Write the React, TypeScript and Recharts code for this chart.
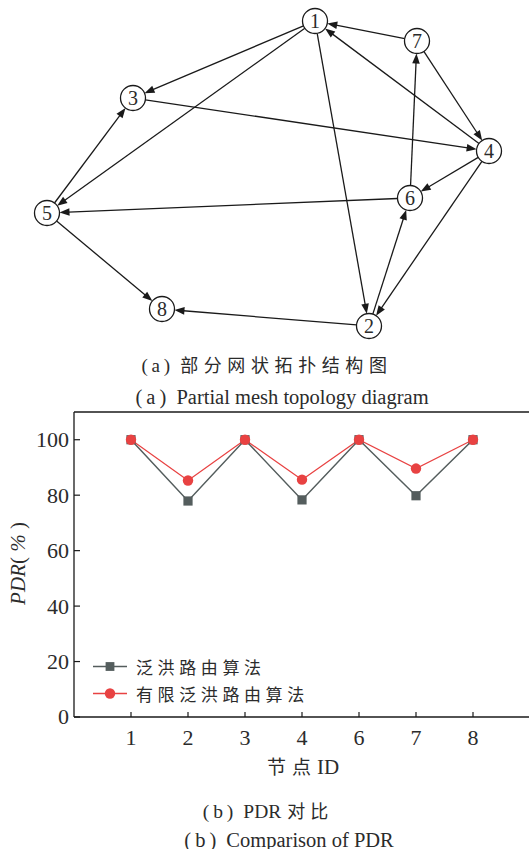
import React from "react";
import { ScatterChart, Scatter, LineChart, Line, XAxis, YAxis, ReferenceLine, Legend } from "recharts";

// mesh topology: node layout and directed links
const nodeIds = ["1", "2", "3", "4", "5", "6", "7", "8"];
const nodeX = [315, 369, 133, 489, 47, 410, 417, 162];
const nodeY = [21, 326, 98, 151, 213, 198, 41, 309];

const linkFrom = ["1", "1", "1", "7", "4", "7", "3", "4", "4", "6", "6", "2", "2", "5", "5"];
const linkTo = ["3", "5", "2", "1", "1", "4", "4", "6", "2", "7", "5", "6", "8", "3", "8"];

// PDR per node
const nodeLabels = ["1", "2", "3", "4", "6", "7", "8"];
const floodPdr = [100, 77.9, 100, 78.3, 100, 79.8, 100];
const limitedPdr = [100, 85.3, 100, 85.6, 100, 89.6, 100];
const pdrTicks = [0, 20, 40, 60, 80, 100];

const FLOOD = "#545d5d";
const LIMITED = "#e84242";
const INK = "#1a1a1a";
const TEXT = "#2b2b2b";
const SERIF = "'Liberation Serif', 'Times New Roman', 'DejaVu Serif', serif";
const CJK = "'Noto Sans CJK SC', sans-serif";
const NODE_R = 12.5;
const THIN = "\u2009";

const nodes = nodeIds.map((id, i) => ({ id, x: nodeX[i], y: nodeY[i] }));
const links = linkFrom.map((from, i) => {
  const a = nodeIds.indexOf(from);
  const b = nodeIds.indexOf(linkTo[i]);
  return [
    { x: nodeX[a], y: nodeY[a] },
    { x: nodeX[b], y: nodeY[b] },
  ];
});

const pdrRows = nodeLabels.map((id, i) => ({
  idx: i + 1,
  id,
  flood: floodPdr[i],
  limited: limitedPdr[i],
}));

// line between two node rims with a filled arrowhead at the target
const ArrowLink = (props: any) => {
  const { x1, y1, x2, y2 } = props;
  if (![x1, y1, x2, y2].every((v) => Number.isFinite(v))) return null;
  const dx = x2 - x1;
  const dy = y2 - y1;
  const len = Math.hypot(dx, dy) || 1;
  const ux = dx / len;
  const uy = dy / len;
  const sx = x1 + ux * NODE_R;
  const sy = y1 + uy * NODE_R;
  const ex = x2 - ux * NODE_R;
  const ey = y2 - uy * NODE_R;
  const hl = 10;
  const hw = 3.8;
  const bx = ex - ux * hl;
  const by = ey - uy * hl;
  const pts = `${ex},${ey} ${bx - uy * hw},${by + ux * hw} ${bx + uy * hw},${by - ux * hw}`;
  return (
    <g>
      <line x1={sx} y1={sy} x2={bx + ux} y2={by + uy} stroke={INK} strokeWidth={1.3} />
      <polygon points={pts} fill={INK} />
    </g>
  );
};

const NodeShape = (props: any) => {
  const { cx, cy, payload } = props;
  return (
    <g>
      <circle cx={cx} cy={cy} r={NODE_R} fill="#fff" stroke={INK} strokeWidth={1.3} />
      <text x={cx} y={cy} dy="0.34em" textAnchor="middle" fontSize={20} fontFamily={SERIF} fill={TEXT}>
        {payload.id}
      </text>
    </g>
  );
};

const YTick = (props: any) => {
  const { x, y, payload } = props;
  return (
    <g>
      <line x1={x} y1={y} x2={x + 6} y2={y} stroke={INK} strokeWidth={1.2} />
      <text x={x - 5} y={y} dy="0.34em" textAnchor="end" fontSize={22} fontFamily={SERIF} fill={TEXT}>
        {payload.value}
      </text>
    </g>
  );
};

const XTick = (props: any) => {
  const { x, y, payload } = props;
  return (
    <g>
      <line x1={x} y1={y} x2={x} y2={y - 5} stroke={INK} strokeWidth={1.2} />
      <text x={x} y={y + 21} dy="0.34em" textAnchor="middle" fontSize={22} fontFamily={SERIF} fill={TEXT}>
        {nodeLabels[payload.value - 1]}
      </text>
    </g>
  );
};

const SquareDot = (props: any) => {
  const { cx, cy, index } = props;
  return <rect key={`sq-${index}`} x={cx - 4.6} y={cy - 4.6} width={9.2} height={9.2} fill={FLOOD} />;
};

const RoundDot = (props: any) => {
  const { cx, cy, index } = props;
  return <circle key={`ci-${index}`} cx={cx} cy={cy} r={5.2} fill={LIMITED} />;
};

const legendItems = [
  { name: "泛洪路由算法", color: FLOOD, shape: "square" },
  { name: "有限泛洪路由算法", color: LIMITED, shape: "circle" },
];

const PdrLegend = () => (
  <div>
    {legendItems.map((item) => (
      <div key={item.name} style={{ display: "flex", alignItems: "center", height: 27 }}>
        <svg width={35} height={27}>
          <line x1={0} y1={13.5} x2={34} y2={13.5} stroke={item.color} strokeWidth={1.5} />
          {item.shape === "square" ? (
            <rect x={12.6} y={9.1} width={8.8} height={8.8} fill={item.color} />
          ) : (
            <circle cx={17} cy={13.5} r={5.2} fill={item.color} />
          )}
        </svg>
        <span
          style={{
            marginLeft: 8,
            fontFamily: CJK,
            fontSize: 17,
            letterSpacing: 4.6,
            color: TEXT,
            lineHeight: "27px",
          }}
        >
          {item.name}
        </span>
      </div>
    ))}
  </div>
);

const YTitle = (props: any) => {
  const vb = props.viewBox || { x: 0, y: 412, width: 74, height: 305 };
  const cx = 18;
  const cy = vb.y + vb.height / 2 - 1;
  return (
    <text
      x={cx}
      y={cy}
      dy="0.34em"
      textAnchor="middle"
      transform={`rotate(-90, ${cx}, ${cy})`}
      fontSize={21}
      fontFamily={SERIF}
      fill={TEXT}
    >
      <tspan fontStyle="italic">PDR</tspan>
      <tspan>( </tspan>
      <tspan fontStyle="italic">%</tspan>
      <tspan> )</tspan>
    </text>
  );
};

const XTitle = (props: any) => {
  const vb = props.viewBox || { x: 74, y: 717, width: 456, height: 70 };
  return (
    <text x={vb.x + vb.width / 2 + 1} y={vb.y + 51} dy="0.34em" textAnchor="middle" fontSize={19} fill={TEXT}>
      <tspan fontFamily={CJK} letterSpacing={6}>
        节点
      </tspan>
      <tspan fontFamily={SERIF} fontSize={21}>
        ID
      </tspan>
    </text>
  );
};

// caption row: latin part in serif, Chinese part spaced out in the CJK face
const Caption = ({ tag, latin, cjk, cx, cy, size, cjkSize, spacing }: any) => (
  <div
    style={{
      position: "absolute",
      left: cx - 250,
      width: 500,
      top: cy - 8,
      height: 16,
      lineHeight: "16px",
      textAlign: "center",
      fontFamily: SERIF,
      fontSize: size,
      color: TEXT,
      whiteSpace: "nowrap",
    }}
  >
    <span style={{ marginRight: 10 }}>{`(${THIN}${tag}${THIN})`}</span>
    {latin ? <span>{latin}</span> : null}
    {cjk ? (
      <span style={{ fontFamily: CJK, fontSize: cjkSize, letterSpacing: spacing, marginLeft: latin ? 6 : 0 }}>
        {cjk}
      </span>
    ) : null}
  </div>
);

export default function App() {
  return (
    <div
      style={{
        position: "absolute",
        left: 0,
        top: 0,
        width: 529,
        height: 849,
        overflow: "hidden",
        background: "#fff",
      }}
    >
      <div style={{ position: "absolute", left: 0, top: 0 }}>
        <ScatterChart width={529} height={345} margin={{ top: 0, right: 0, bottom: 0, left: 0 }}>
          <XAxis type="number" dataKey="x" domain={[0, 529]} hide />
          <YAxis type="number" dataKey="y" domain={[0, 345]} reversed hide />
          {links.map((seg, i) => (
            <ReferenceLine key={`link-${i}`} segment={seg} shape={ArrowLink} ifOverflow="visible" />
          ))}
          <Scatter data={nodes} shape={NodeShape} isAnimationActive={false} />
        </ScatterChart>
      </div>

      <Caption tag="a" cjk="部分网状拓扑结构图" cx={267} cy={363.6} size={19} cjkSize={18} spacing={5.6} />
      <Caption tag="a" latin="Partial mesh topology diagram" cx={282} cy={396.6} size={20.5} />

      <div style={{ position: "absolute", left: 0, top: 400 }}>
        <LineChart width={560} height={387} data={pdrRows} margin={{ top: 12, right: 30, bottom: 0, left: 0 }}>
          <XAxis
            type="number"
            dataKey="idx"
            domain={[0, 8]}
            ticks={[1, 2, 3, 4, 5, 6, 7]}
            height={70}
            tickSize={0}
            tickMargin={0}
            tick={<XTick />}
            axisLine={{ stroke: INK, strokeWidth: 1.3 }}
            label={<XTitle />}
          />
          <YAxis
            type="number"
            domain={[0, 110]}
            ticks={pdrTicks}
            width={74}
            tickSize={0}
            tickMargin={0}
            tick={<YTick />}
            axisLine={{ stroke: INK, strokeWidth: 1.3 }}
            label={<YTitle />}
          />
          <ReferenceLine y={110} stroke={INK} strokeWidth={1.3} ifOverflow="visible" />
          <ReferenceLine x={8} stroke={INK} strokeWidth={1.3} ifOverflow="visible" />
          <Legend
            layout="vertical"
            align="center"
            verticalAlign="middle"
            content={<PdrLegend />}
            wrapperStyle={{ left: 93, top: 252.5, width: "auto" }}
          />
          <Line
            type="linear"
            dataKey="flood"
            name="泛洪路由算法"
            stroke={FLOOD}
            strokeWidth={1.5}
            dot={<SquareDot />}
            activeDot={false}
            isAnimationActive={false}
          />
          <Line
            type="linear"
            dataKey="limited"
            name="有限泛洪路由算法"
            stroke={LIMITED}
            strokeWidth={1.2}
            dot={<RoundDot />}
            activeDot={false}
            isAnimationActive={false}
          />
        </LineChart>
      </div>

      <Caption tag="b" latin="PDR" cjk="对比" cx={268} cy={810} size={19.5} cjkSize={18} spacing={5} />
      <Caption tag="b" latin="Comparison of PDR" cx={289} cy={839.5} size={20.5} />
    </div>
  );
}
